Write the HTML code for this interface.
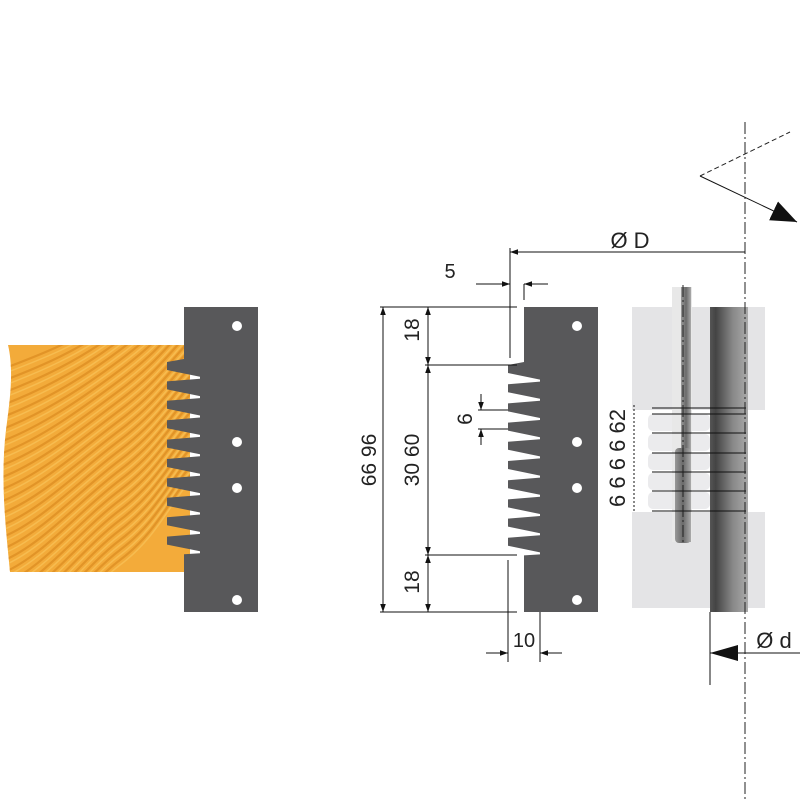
<!DOCTYPE html>
<html><head><meta charset="utf-8"><style>
html,body{margin:0;padding:0;background:#fff}
svg{display:block}
text{font-family:"Liberation Sans",sans-serif;fill:#222}
</style></head><body>
<svg id="s" width="800" height="800" viewBox="0 0 800 800" xmlns="http://www.w3.org/2000/svg">
<defs>
<marker id="a" viewBox="0 0 10 10" refX="10" refY="5" markerWidth="8" markerHeight="8" orient="auto-start-reverse" markerUnits="userSpaceOnUse"><path d="M0,1.5 L10,5 L0,8.5z" fill="#111"/></marker>
<marker id="b" viewBox="0 0 10 10" refX="10" refY="5" markerWidth="26" markerHeight="26" orient="auto" markerUnits="userSpaceOnUse"><path d="M0,1 L10,5 L0,9z" fill="#111"/></marker>
<linearGradient id="sh" x1="0" x2="1"><stop offset="0" stop-color="#555"/><stop offset="0.15" stop-color="#444"/><stop offset="0.6" stop-color="#888"/><stop offset="1" stop-color="#aaa"/></linearGradient>
<linearGradient id="sh2" x1="0" x2="1"><stop offset="0" stop-color="#999"/><stop offset="0.5" stop-color="#6a6a6a"/><stop offset="1" stop-color="#aaa"/></linearGradient>
<clipPath id="wc"><path d="M8,345 L190,345 L190,572 L10,572 C6,530 0,480 6,430 C10,400 14,370 8,345z"/></clipPath>
</defs>
<g clip-path="url(#wc)">
<rect x="0" y="340" width="200" height="240" fill="#f3ab3a"/>
<g id="grain" fill="none" stroke="#dc8d22" stroke-width="2.2" opacity="0.75"></g>
<g id="grain2" fill="none" stroke="#f8c45a" stroke-width="1.5" opacity="0.7"></g>
</g>
<path id="lb" fill="#58585a"/>
<circle cx="237" cy="326" r="5" fill="#fff"/><circle cx="237" cy="442" r="5" fill="#fff"/><circle cx="237" cy="488" r="5" fill="#fff"/><circle cx="237" cy="600" r="5" fill="#fff"/>
<path id="mb" fill="#58585a"/>
<circle cx="577" cy="326" r="5" fill="#fff"/><circle cx="577" cy="442" r="5" fill="#fff"/><circle cx="577" cy="488" r="5" fill="#fff"/><circle cx="577" cy="600" r="5" fill="#fff"/>
<rect x="632" y="307" width="133" height="103" fill="#e4e4e6"/>
<rect x="632" y="512" width="133" height="96" fill="#e4e4e6"/>
<g fill="#ebebed">
<rect x="648" y="414" width="62" height="17" rx="5"/><rect x="648" y="434" width="62" height="17" rx="5"/><rect x="648" y="453" width="62" height="17" rx="5"/><rect x="648" y="473" width="62" height="17" rx="5"/><rect x="648" y="492" width="62" height="17" rx="5"/>
</g>
<rect x="672" y="287" width="20" height="255" fill="#e8e8e8"/>
<rect x="681" y="287" width="10" height="255" fill="url(#sh2)"/>
<rect x="675" y="448" width="16" height="95" rx="4" fill="url(#sh2)"/>
<rect x="710" y="307" width="38" height="305" fill="url(#sh)"/>
<g stroke="#111" stroke-width="1">
<line x1="652" y1="408" x2="746" y2="408"/><line x1="652" y1="414" x2="746" y2="414"/><line x1="652" y1="433" x2="746" y2="433"/><line x1="652" y1="453" x2="746" y2="453"/><line x1="652" y1="472" x2="746" y2="472"/><line x1="652" y1="491" x2="746" y2="491"/><line x1="652" y1="511" x2="746" y2="511"/>
<line x1="634" y1="405" x2="634" y2="511" stroke-dasharray="2,2"/>
</g>
<text x="625" y="458" font-size="22" transform="rotate(-90 625 458)" text-anchor="middle">6 6 6 6 62</text>
<g stroke="#222" stroke-width="1" stroke-dasharray="12,3,2,3">
<line x1="745" y1="122" x2="745" y2="800"/><line x1="683" y1="285" x2="683" y2="545"/>
</g>
<line x1="700" y1="176" x2="790" y2="132" stroke="#222" stroke-dasharray="5,3"/>
<line x1="700" y1="176" x2="797" y2="222" stroke="#111" marker-end="url(#b)"/>
<g stroke="#111" stroke-width="1" fill="none">
<line x1="510" y1="252" x2="745" y2="252" marker-start="url(#a)"/>
<line x1="510" y1="248" x2="510" y2="358"/>
<line x1="524" y1="284" x2="524" y2="300"/>
<line x1="476" y1="284" x2="510" y2="284" marker-end="url(#a)"/>
<line x1="548" y1="284" x2="524" y2="284" marker-end="url(#a)"/>
<line x1="380" y1="307" x2="517" y2="307"/><line x1="425" y1="365" x2="517" y2="365"/><line x1="425" y1="555" x2="517" y2="555"/><line x1="380" y1="612" x2="517" y2="612"/>
<line x1="383" y1="307" x2="383" y2="612" marker-start="url(#a)" marker-end="url(#a)"/>
<line x1="428" y1="307" x2="428" y2="365" marker-start="url(#a)" marker-end="url(#a)"/>
<line x1="428" y1="365" x2="428" y2="555" marker-start="url(#a)" marker-end="url(#a)"/>
<line x1="428" y1="555" x2="428" y2="612" marker-start="url(#a)" marker-end="url(#a)"/>
<line x1="478" y1="410" x2="508" y2="410"/><line x1="478" y1="429" x2="508" y2="429"/>
<line x1="481" y1="394" x2="481" y2="410" marker-end="url(#a)"/><line x1="481" y1="445" x2="481" y2="429" marker-end="url(#a)"/>
<line x1="508" y1="560" x2="508" y2="662"/><line x1="540" y1="612" x2="540" y2="662"/>
<line x1="486" y1="653" x2="508" y2="653" marker-end="url(#a)"/><line x1="562" y1="653" x2="540" y2="653" marker-end="url(#a)"/>
<line x1="710" y1="612" x2="710" y2="685"/>
<line x1="800" y1="653" x2="710" y2="653"/>
</g>
<path d="M710,653 L738,645 L738,661z" fill="#111"/>
<text x="630" y="248" font-size="22" text-anchor="middle">Ø D</text>
<text x="450" y="278" font-size="20" text-anchor="middle">5</text>
<text x="524" y="647" font-size="20" text-anchor="middle">10</text>
<text x="774" y="648" font-size="22" text-anchor="middle">Ø d</text>
<text x="419" y="330" font-size="21" transform="rotate(-90 419 330)" text-anchor="middle">18</text>
<text x="419" y="460" font-size="21" transform="rotate(-90 419 460)" text-anchor="middle">30 60</text>
<text x="419" y="582" font-size="21" transform="rotate(-90 419 582)" text-anchor="middle">18</text>
<text x="376" y="460" font-size="21" transform="rotate(-90 376 460)" text-anchor="middle">66 96</text>
<text x="472" y="419" font-size="21" transform="rotate(-90 472 419)" text-anchor="middle">6</text>
</svg>
<script>
function blade(xe,xr,top,bot,c0,sp,n,tl,ta){
 var p="M"+xr+","+top+" L"+xe+","+top+" L"+xe+","+(c0-7);
 for(var i=0;i<n;i++){var c=c0+sp*i;
  p+=" L"+tl+","+(c-4)+" L"+tl+","+(c+4)+" L"+ta+","+(c+sp/2+1)+" L"+ta+","+(c+sp/2+3);
 }
 p+=" L"+xe+","+(c0+sp*(n-1)+sp/2+4)+" L"+xe+","+bot+" L"+xr+","+bot+"z";
 return p;}
document.getElementById("lb").setAttribute("d",blade(184,258,307,612,366,19.4,10,167,200));
document.getElementById("mb").setAttribute("d",blade(524,598,307,612,369,19.2,10,508,540));
var h="",h2="";
for(var k=0;k<26;k++){var y=330+k*12;
 var d='M0,'+(y+40)+' C40,'+(y+25)+' 80,'+(y+10-k*2)+' 120,'+(y-20-k*2)+' S170,'+(y-60-k*3)+' 200,'+(y-90-k*3);
 h+='<path d="'+d+'"/>'; h2+='<path transform="translate(0,5)" d="'+d+'"/>';}
document.getElementById("grain").innerHTML=h;
document.getElementById("grain2").innerHTML=h2;
</script>
</body></html>
